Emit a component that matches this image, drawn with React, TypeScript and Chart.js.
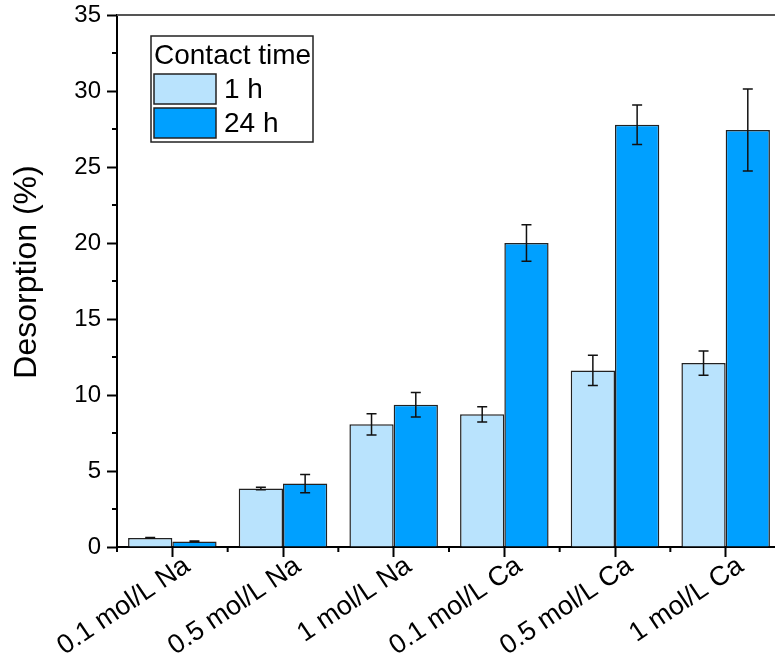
import React, { useEffect, useRef } from 'react';
import { Chart, registerables } from 'chart.js';

Chart.register(...registerables);

const categories = ['0.1 mol/L Na', '0.5 mol/L Na', '1 mol/L Na', '0.1 mol/L Ca', '0.5 mol/L Ca', '1 mol/L Ca'];
const legendTitle = 'Contact time';
const seriesLabels = ['1 h', '24 h'];
const values1h = [0.6, 3.85, 8.07, 8.73, 11.62, 12.1];
const errors1h = [0.02, 0.08, 0.7, 0.5, 1.0, 0.8];
const values24h = [0.37, 4.17, 9.36, 20.0, 27.78, 27.43];
const errors24h = [0.03, 0.6, 0.8, 1.2, 1.3, 2.7];
const yMin = 0;
const yMax = 35;
const yStep = 5;
const yTitle = 'Desorption (%)';

const FONT = "'Liberation Sans', Arial, sans-serif";
const COLOR_1H = '#B9E3FD';
const COLOR_24H = '#00A0FF';

const errorBarPlugin = {
  id: 'errorBars',
  afterDatasetsDraw(chart: any) {
    const ctx = chart.ctx;
    const yScale = chart.scales.y;
    chart.data.datasets.forEach((ds: any, di: number) => {
      const meta = chart.getDatasetMeta(di);
      const errs: number[] = ds.errors || [];
      meta.data.forEach((bar: any, i: number) => {
        const v = ds.data[i];
        const e = errs[i] || 0;
        const x = bar.x;
        const yt = yScale.getPixelForValue(v + e);
        const yb = yScale.getPixelForValue(v - e);
        ctx.save();
        ctx.strokeStyle = '#111';
        ctx.lineWidth = 1.5;
        ctx.beginPath();
        ctx.moveTo(x, yt);
        ctx.lineTo(x, yb);
        ctx.moveTo(x - 5, yt);
        ctx.lineTo(x + 5, yt);
        ctx.moveTo(x - 5, yb);
        ctx.lineTo(x + 5, yb);
        ctx.stroke();
        ctx.restore();
      });
    });
  },
};

const framePlugin = {
  id: 'frameAndMinor',
  afterDraw(chart: any) {
    const ctx = chart.ctx;
    const { left, right, top, bottom } = chart.chartArea;
    const yScale = chart.scales.y;
    const xScale = chart.scales.x;
    ctx.save();
    ctx.strokeStyle = '#555';
    ctx.lineWidth = 2;
    ctx.beginPath();
    ctx.moveTo(left, top);
    ctx.lineTo(right + 10, top);
    ctx.stroke();
    ctx.strokeStyle = '#000';
    ctx.lineWidth = 2;
    ctx.beginPath();
    for (let v = yMin + yStep / 2; v < yMax; v += yStep) {
      const y = yScale.getPixelForValue(v);
      ctx.moveTo(left - 5, y);
      ctx.lineTo(left, y);
    }
    const n = categories.length;
    for (let i = 0; i <= n; i++) {
      const x = xScale.getPixelForValue(i - 0.5);
      ctx.moveTo(x, bottom);
      ctx.lineTo(x, bottom + 5);
    }
    ctx.stroke();
    ctx.fillStyle = '#000';
    ctx.font = `32px ${FONT}`;
    ctx.textAlign = 'center';
    ctx.textBaseline = 'middle';
    ctx.translate(27, (top + bottom) / 2 - 9);
    ctx.rotate(-Math.PI / 2);
    ctx.fillText(yTitle, 0, 0);
    ctx.restore();
  },
};

const legendPlugin = {
  id: 'customLegend',
  afterDraw(chart: any) {
    const ctx = chart.ctx;
    ctx.save();
    const bx = 151, by = 36, bw = 162, bh = 106;
    ctx.fillStyle = '#fff';
    ctx.fillRect(bx, by, bw, bh);
    ctx.strokeStyle = '#222';
    ctx.lineWidth = 1.5;
    ctx.strokeRect(bx, by, bw, bh);
    ctx.fillStyle = '#000';
    ctx.font = `28px ${FONT}`;
    ctx.textAlign = 'left';
    ctx.textBaseline = 'alphabetic';
    ctx.fillText(legendTitle, 154, 63.5);
    const colors = [COLOR_1H, COLOR_24H];
    const rows = [74, 108];
    seriesLabels.forEach((lab, i) => {
      const y = rows[i];
      ctx.fillStyle = colors[i];
      ctx.fillRect(154, y, 62, 30);
      ctx.strokeStyle = '#222';
      ctx.lineWidth = 1.5;
      ctx.strokeRect(154, y, 62, 30);
      ctx.fillStyle = '#000';
      ctx.textBaseline = 'middle';
      ctx.fillText(lab, 224, y + 16);
    });
    ctx.restore();
  },
};

export default function App() {
  const ref = useRef<HTMLCanvasElement>(null);
  useEffect(() => {
    if (!ref.current) return;
    const chart = new Chart(ref.current, {
      type: 'bar',
      data: {
        labels: categories,
        datasets: [
          {
            label: seriesLabels[0],
            data: values1h,
            errors: errors1h,
            backgroundColor: COLOR_1H,
            borderColor: '#222',
            borderWidth: 1.5,
            categoryPercentage: 0.8,
            barPercentage: 1.0,
          } as any,
          {
            label: seriesLabels[1],
            data: values24h,
            errors: errors24h,
            backgroundColor: COLOR_24H,
            borderColor: '#222',
            borderWidth: 1.5,
            categoryPercentage: 0.8,
            barPercentage: 1.0,
          } as any,
        ],
      },
      options: {
        animation: false,
        responsive: false,
        maintainAspectRatio: false,
        layout: { padding: { top: 15, right: 9, left: 0, bottom: 0 } },
        plugins: { legend: { display: false }, tooltip: { enabled: false } },
        scales: {
          x: {
            offset: true,
            grid: {
              offset: false,
              drawOnChartArea: false,
              drawTicks: true,
              tickLength: 10,
              tickColor: '#000',
              tickWidth: 2,
            },
            border: { display: true, color: '#000', width: 2 },
            ticks: {
              color: '#000',
              font: { family: FONT, size: 27 },
              minRotation: 34,
              maxRotation: 34,
              padding: -7,
              labelOffset: 15,
              autoSkip: false,
            },
            afterFit(scale: any) {
              scale.height = 113;
              scale.paddingLeft = 0;
              scale.paddingRight = 0;
            },
          },
          y: {
            min: yMin,
            max: yMax,
            grid: {
              drawOnChartArea: false,
              drawTicks: true,
              tickLength: 10,
              tickColor: '#000',
              tickWidth: 2,
            },
            border: { display: true, color: '#000', width: 2 },
            ticks: {
              stepSize: yStep,
              color: '#000',
              font: { family: FONT, size: 24 },
              padding: 6,
            },
            title: { display: false },
            afterFit(scale: any) {
              scale.width = 117;
              scale.paddingTop = 0;
              scale.paddingBottom = 0;
            },
          },
        },
      },
      plugins: [errorBarPlugin, framePlugin, legendPlugin],
    });
    return () => chart.destroy();
  }, []);
  return (
    <div style={{ position: 'fixed', left: 0, top: 0, width: 775, height: 660, overflow: 'hidden', background: '#fff' }}>
      <canvas ref={ref} width={790} height={660} style={{ display: 'block', width: 790, height: 660 }} />
    </div>
  );
}
